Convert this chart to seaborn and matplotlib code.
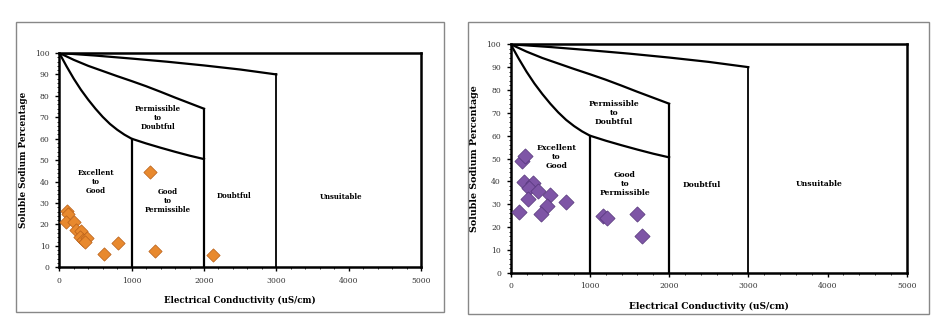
import matplotlib
matplotlib.use("Agg")
import matplotlib.pyplot as plt
import seaborn as sns
import numpy as np
import pandas as pd
from matplotlib.patches import Rectangle

# Datos (EC en uS/cm, % de sodio soluble)
ec_left = [100, 120, 90, 200, 227, 305, 280, 327, 380, 350, 614, 805, 1259, 1327, 2123]
na_left = [26.4, 25.0, 21.3, 21.3, 17.4, 17.0, 14.3, 12.8, 13.5, 12.0, 6.2, 11.2, 44.6, 7.8, 5.9]

ec_right = [139, 181, 105, 168, 286, 235, 349, 223, 496, 454, 378, 693, 1168, 1210, 1597, 1664]
na_right = [48.9, 51.1, 26.7, 39.9, 39.4, 36.9, 35.9, 32.1, 34.0, 29.2, 25.5, 31.1, 24.8, 23.8, 25.7, 16.1]

# Limites del diagrama de Wilcox (leidos a mano)
top_x = [0, 500, 1000, 1500, 2000, 2500, 3000]
top_y = [100, 98.8, 97.4, 95.9, 94.2, 92.3, 90]
mid_x = [0, 200, 400, 600, 800, 1000, 1200, 1400, 1600, 1800, 2000]
mid_y = [100, 96.8, 94.0, 91.6, 89.2, 86.9, 84.5, 81.9, 79.2, 76.6, 74]
low_x = [0, 100, 200, 300, 400, 500, 600, 700, 800, 900, 1000, 1200, 1400, 1600, 1800, 2000]
low_y = [100, 93.8, 88, 82.8, 78.2, 74, 70.2, 66.9, 64.2, 61.9, 60, 57.8, 55.8, 53.9, 52.1, 50.5]
vert_x = [1000, 2000, 3000]
vert_top = [60, 74, 90]

zones = ["Permissible\nto\nDoubtful", "Excellent\nto\nGood", "Good\nto\nPermissible", "Doubtful", "Unsuitable"]
zone_x_left = [1364, 509, 1500, 2409, 3900]
zone_y_left = [69.5, 39.7, 30.8, 33.3, 32.7]
zone_x_right = [1302, 580, 1441, 2407, 3899]
zone_y_right = [69.8, 50.5, 39.0, 38.4, 38.7]

serif = "DejaVu Serif"

fig = plt.figure(figsize=(9.4, 3.28), dpi=100)

# marcos grises de cada panel
fig.add_artist(Rectangle((16 / 940, 1 - 312 / 328), 428 / 940, 290 / 328,
                         transform=fig.transFigure, fill=False, edgecolor="#888888", lw=1))
fig.add_artist(Rectangle((468 / 940, 1 - 314 / 328), 461 / 940, 292 / 328,
                         transform=fig.transFigure, fill=False, edgecolor="#888888", lw=1))

ax1 = fig.add_axes([59.3 / 940, 1 - 267.3 / 328, (421 - 59.3) / 940, (267.3 - 53) / 328])
ax2 = fig.add_axes([510.7 / 940, 1 - 272.7 / 328, (906.7 - 510.7) / 940, (272.7 - 44.3) / 328])

paneles = [
    (ax1, ec_left, na_left, "#E8892E", "#B8601A", 46, 5.0, zone_x_left, zone_y_left, 6.2, 6.3),
    (ax2, ec_right, na_right, "#7E55A6", "#55367A", 60, 5.5, zone_x_right, zone_y_right, 6.6, 6.8),
]

for ax, ec, na, color, edge, size, fs, zx_list, zy_list, xl_fs, yl_fs in paneles:
    for xs, ys in [(top_x, top_y), (mid_x, mid_y), (low_x, low_y)]:
        ax.plot(xs, ys, color="black", lw=1.6, zorder=2, solid_joinstyle="round")
    for vx, vt in zip(vert_x, vert_top):
        ax.plot([vx, vx], [0, vt], color="black", lw=1.3 if vx == 3000 else 1.6, zorder=2)

    df = pd.DataFrame({"EC": ec, "Na": na})
    sns.scatterplot(data=df, x="EC", y="Na", marker="D", s=size, color=color,
                    edgecolor=edge, linewidth=0.5, ax=ax, zorder=3)

    for txt, zx, zy in zip(zones, zx_list, zy_list):
        ax.text(zx, zy, txt, ha="center", va="center", fontsize=fs, fontweight="bold",
                family=serif, linespacing=1.15)

    ax.set_xlim(0, 5000)
    ax.set_ylim(0, 100)
    ax.set_xticks(np.arange(0, 5001, 1000))
    ax.set_xticks(np.arange(0, 5001, 200), minor=True)
    ax.set_yticks(np.arange(0, 101, 10))
    ax.set_yticks(np.arange(0, 101, 2), minor=True)
    ax.tick_params(axis="both", which="major", labelsize=5.5, length=3, width=1, pad=4)
    ax.tick_params(axis="both", which="minor", length=1.5, width=0.6)
    for lab in ax.get_xticklabels() + ax.get_yticklabels():
        lab.set_family(serif)
        lab.set_color("#333333")
    for sp in ax.spines.values():
        sp.set_linewidth(1.8)
        sp.set_color("black")
    ax.set_xlabel("Electrical Conductivity (uS/cm)", fontsize=xl_fs, fontweight="bold",
                  family=serif, labelpad=8)
    ax.set_ylabel("Soluble Sodium Percentage", fontsize=yl_fs, fontweight="bold",
                  family=serif, labelpad=5)

plt.savefig("out.png", dpi=100)
